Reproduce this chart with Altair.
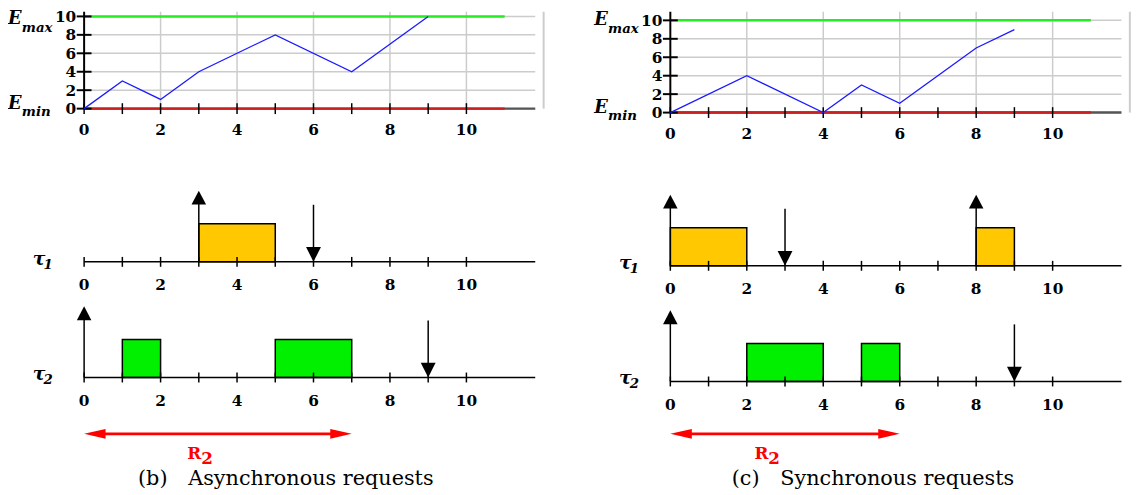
import altair as alt
import pandas as pd

# ---------------- data ----------------
tick_values = list(range(0, 11))          # small ticks on time axes
label_values = [0, 2, 4, 6, 8, 10]        # time tick labels
energy_levels = [0, 2, 4, 6, 8, 10]       # energy tick labels
E_MIN, E_MAX = 0, 10
HORIZON = 11          # end of the Emin / Emax lines
AXIS_END = 11.8       # end of the drawn time axes and grid
BORDER_X = 12.02      # thin frame at the right of the energy plots

# (b) asynchronous requests
b_time = [0, 1, 2, 3, 5, 7, 9]
b_energy = [0, 3, 1, 4, 8, 4, 10]
b_t1_start, b_t1_end = [3], [5]
b_t1_release, b_t1_deadline = [3], [6]
b_t2_start, b_t2_end = [1, 5], [2, 7]
b_t2_release, b_t2_deadline = [0], [9]
b_r2 = [0, 7]
b_r2_label = 2.7

# (c) synchronous requests
c_time = [0, 2, 4, 5, 6, 8, 9]
c_energy = [0, 4, 0, 3, 1, 7, 9]
c_t1_start, c_t1_end = [0, 8], [2, 9]
c_t1_release, c_t1_deadline = [0, 8], [3]
c_t2_start, c_t2_end = [2, 5], [4, 6]
c_t2_release, c_t2_deadline = [0], [9]
c_r2 = [0, 6]
c_r2_label = 2.2

JOB_LEVEL = 1.0       # height of a job box (timeline units)
RELEASE_LEN = 1.87    # length of a release (up) arrow
DEADLINE_LEN = 1.5    # length of a deadline (down) arrow

# ---------------- styles ----------------
SERIF = "DejaVu Serif"
W = 466
XDOM = [0, 12.05]
UNIT = 38.5           # px per timeline unit
ORANGE = "#ffc800"
GREEN = "#00f000"


def xscale():
    return alt.Scale(domain=XDOM, nice=False, zero=False)


LAB = dict(font=SERIF, fontSize=15.5, fontWeight="bold", color="black", baseline="alphabetic")


def time_labels(dy):
    df = pd.DataFrame({"x": label_values, "y": 0, "lab": [str(v) for v in label_values]})
    return alt.Chart(df).mark_text(align="center", dy=dy, **LAB).encode(x="x:Q", y="y:Q", text="lab:N")


def energy_chart(times, energies, height, emax_dy):
    ytop = height / 9.33
    xs = xscale()
    ys = alt.Scale(domain=[0, ytop], nice=False, zero=False)
    hgrid = alt.Chart(pd.DataFrame({"y": energy_levels, "x0": 0, "x1": AXIS_END})).mark_rule(
        color="#cccccc", strokeWidth=1.5).encode(
        x=alt.X("x0:Q", scale=xs), x2="x1:Q", y=alt.Y("y:Q", scale=ys))
    vgrid = alt.Chart(pd.DataFrame({"x": label_values[1:], "y0": 0, "y1": ytop})).mark_rule(
        color="#cccccc", strokeWidth=1.5).encode(x="x:Q", y="y0:Q", y2="y1:Q")
    border = alt.Chart(pd.DataFrame({"x": [BORDER_X], "y0": [0], "y1": [ytop]})).mark_rule(
        color="#cccccc", strokeWidth=2).encode(x="x:Q", y="y0:Q", y2="y1:Q")
    xline = alt.Chart(pd.DataFrame({"x0": [0], "x1": [AXIS_END], "y": [0]})).mark_rule(
        color="#555555", strokeWidth=2.5).encode(x="x0:Q", x2="x1:Q", y="y:Q")
    limits = alt.Chart(pd.DataFrame({"x0": [0, 0], "x1": [HORIZON, HORIZON],
                                     "y": [E_MIN, E_MAX], "c": ["min", "max"]})).mark_rule(
        strokeWidth=2.5).encode(
        x="x0:Q", x2="x1:Q", y="y:Q",
        color=alt.Color("c:N", scale=alt.Scale(domain=["min", "max"], range=["#cc1f1f", "#22ee22"]),
                        legend=None))
    yline = alt.Chart(pd.DataFrame({"x": [0], "y0": [0], "y1": [ytop]})).mark_rule(
        color="black", strokeWidth=2).encode(x="x:Q", y="y0:Q", y2="y1:Q")
    yticks = alt.Chart(pd.DataFrame({"y": energy_levels, "x": 0})).mark_tick(
        orient="horizontal", size=15, thickness=2, color="black", opacity=1).encode(x="x:Q", y="y:Q")
    xticks = alt.Chart(pd.DataFrame({"x": tick_values, "y": 0})).mark_tick(
        orient="vertical", size=11, thickness=1.5, color="black", opacity=1).encode(x="x:Q", y="y:Q")
    line = alt.Chart(pd.DataFrame({"t": times, "e": energies})).mark_line(
        color="#1a1aff", strokeWidth=1.3).encode(x="t:Q", y="e:Q")
    ylabs = alt.Chart(pd.DataFrame({"x": 0, "y": energy_levels,
                                    "lab": [str(v) for v in energy_levels]})).mark_text(
        align="right", dx=-8, dy=5.7, **LAB).encode(x="x:Q", y="y:Q", text="lab:N")
    txt = dict(font=SERIF, fontStyle="italic", fontWeight="bold", color="black",
               align="left", baseline="alphabetic")
    emax = alt.Chart(pd.DataFrame({"x": [0], "y": [E_MAX]})).mark_text(
        text="E", fontSize=18, dx=-77, dy=emax_dy, **txt).encode(x="x:Q", y="y:Q")
    emax_s = alt.Chart(pd.DataFrame({"x": [0], "y": [E_MAX]})).mark_text(
        text="max", fontSize=13.5, dx=-63, dy=emax_dy + 8, **txt).encode(x="x:Q", y="y:Q")
    emin = alt.Chart(pd.DataFrame({"x": [0], "y": [E_MIN]})).mark_text(
        text="E", fontSize=18, dx=-77, dy=0.7, **txt).encode(x="x:Q", y="y:Q")
    emin_s = alt.Chart(pd.DataFrame({"x": [0], "y": [E_MIN]})).mark_text(
        text="min", fontSize=13.5, dx=-63, dy=7.3, **txt).encode(x="x:Q", y="y:Q")
    return alt.layer(hgrid, vgrid, border, xline, limits, yline, yticks, xticks, line,
                     time_labels(26.5), ylabs, emax, emax_s, emin, emin_s).properties(
        width=W, height=height)


def timeline(height, starts, ends, color, releases, deadlines, sub):
    ytop = height / UNIT
    xs = xscale()
    ys = alt.Scale(domain=[0, ytop], nice=False, zero=False)
    boxes = alt.Chart(pd.DataFrame({"s": starts, "e": ends, "lo": 0, "hi": JOB_LEVEL})).mark_rect(
        fill=color, stroke="black", strokeWidth=1.5).encode(
        x=alt.X("s:Q", scale=xs), x2="e:Q", y=alt.Y("lo:Q", scale=ys), y2="hi:Q")
    base = alt.Chart(pd.DataFrame({"x0": [0], "x1": [AXIS_END], "y": [0]})).mark_rule(
        color="black", strokeWidth=1.5).encode(x="x0:Q", x2="x1:Q", y="y:Q")
    ticks = alt.Chart(pd.DataFrame({"x": tick_values, "y": 0})).mark_tick(
        orient="vertical", size=10, thickness=1.5, color="black", opacity=1).encode(x="x:Q", y="y:Q")
    rel = pd.DataFrame({"x": releases, "y0": 0, "y1": RELEASE_LEN})
    rel_line = alt.Chart(rel).mark_rule(color="black", strokeWidth=1.5, y2Offset=6).encode(
        x="x:Q", y="y0:Q", y2="y1:Q")
    rel_head = alt.Chart(rel).mark_point(
        shape="M0,0L-0.525,1L0.525,1Z", size=784, filled=True, color="black", opacity=1,
        strokeWidth=0).encode(x="x:Q", y="y1:Q")
    dl = pd.DataFrame({"x": deadlines, "y0": 0, "y1": DEADLINE_LEN})
    dl_line = alt.Chart(dl).mark_rule(color="black", strokeWidth=1.5, yOffset=-6).encode(
        x="x:Q", y="y0:Q", y2="y1:Q")
    dl_head = alt.Chart(dl).mark_point(
        shape="M0,0L-0.5,-1L0.5,-1Z", size=900, filled=True, color="black", opacity=1,
        strokeWidth=0).encode(x="x:Q", y="y0:Q")
    txt = dict(font=SERIF, fontStyle="italic", fontWeight="bold", color="black",
               align="left", baseline="alphabetic")
    tau = alt.Chart(pd.DataFrame({"x": [0], "y": [0]})).mark_text(
        text="τ", fontSize=19, dx=-52, dy=3, **txt).encode(x="x:Q", y="y:Q")
    tau_s = alt.Chart(pd.DataFrame({"x": [0], "y": [0]})).mark_text(
        text=sub, fontSize=13.5, dx=-41, dy=7, **txt).encode(x="x:Q", y="y:Q")
    return alt.layer(boxes, base, ticks, rel_line, rel_head, dl_line, dl_head,
                     time_labels(28.5), tau, tau_s).properties(width=W, height=height)


def r2_chart(height, r2, label_x, caption, cap_dx):
    xs = xscale()
    ys = alt.Scale(domain=[0, 1], nice=False, zero=False)
    df = pd.DataFrame({"s": [r2[0]], "e": [r2[1]], "y": [0], "lx": [label_x]})
    line = alt.Chart(df).mark_rule(color="#ff0000", strokeWidth=2.7, xOffset=12, x2Offset=-12).encode(
        x=alt.X("s:Q", scale=xs), x2="e:Q", y=alt.Y("y:Q", scale=ys))
    head_l = alt.Chart(df).mark_point(shape="M0,0L1,-0.23L1,0.23Z", size=1884, filled=True,
                                      color="#ff0000", opacity=1, strokeWidth=0).encode(x="s:Q", y="y:Q")
    head_r = alt.Chart(df).mark_point(shape="M0,0L-1,-0.23L-1,0.23Z", size=1884, filled=True,
                                      color="#ff0000", opacity=1, strokeWidth=0).encode(x="e:Q", y="y:Q")
    txt = dict(font=SERIF, fontWeight="bold", color="#ff0000", align="left", baseline="alphabetic")
    r_txt = alt.Chart(df).mark_text(text="R", fontSize=17, dy=25, **txt).encode(x="lx:Q", y="y:Q")
    r_sub = alt.Chart(df).mark_text(text="2", fontSize=17, dx=14, dy=30, **txt).encode(x="lx:Q", y="y:Q")
    return alt.layer(line, head_l, head_r, r_txt, r_sub).properties(
        width=W, height=height,
        title=alt.TitleParams(caption, orient="bottom", anchor="middle", frame="group", dx=cap_dx,
                              offset=19, font=SERIF, fontSize=21, fontWeight="normal",
                              color="black", baseline="alphabetic"))


left = alt.vconcat(
    energy_chart(b_time, b_energy, 98, 8),
    timeline(155, b_t1_start, b_t1_end, ORANGE, b_t1_release, b_t1_deadline, "1"),
    timeline(117, b_t2_start, b_t2_end, GREEN, b_t2_release, b_t2_deadline, "2"),
    r2_chart(57, b_r2, b_r2_label, "(b)\u2003Asynchronous requests", -29),
    spacing=0, bounds="flush")

right = alt.vconcat(
    energy_chart(c_time, c_energy, 102, 4.5),
    timeline(155, c_t1_start, c_t1_end, ORANGE, c_t1_release, c_t1_deadline, "1"),
    timeline(117, c_t2_start, c_t2_end, GREEN, c_t2_release, c_t2_deadline, "2"),
    r2_chart(53, c_r2, c_r2_label, "(c)\u2003Synchronous requests", -28),
    spacing=0, bounds="flush")

chart = alt.hconcat(left, right, spacing=50).properties(
    padding={"left": 0, "top": -1, "right": 0, "bottom": 0}, background="white"
).configure_view(stroke=None).configure_axis(disable=True)

chart.save("out.html", embed_options={"renderer": "svg", "actions": False})
